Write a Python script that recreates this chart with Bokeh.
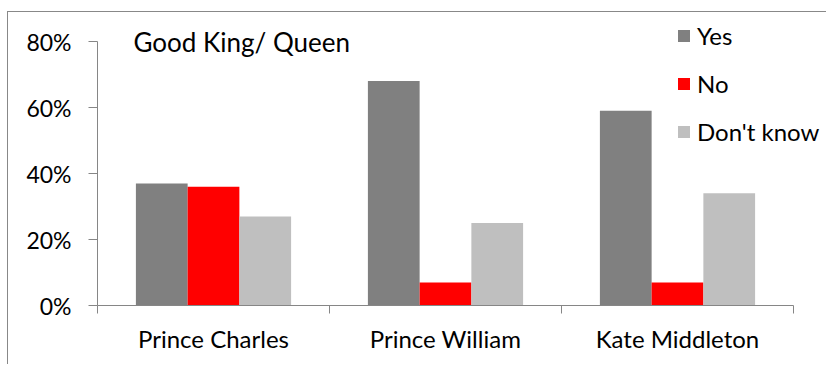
from bokeh.plotting import figure
from bokeh.models import (FixedTicker, Legend, LegendItem, Label,
                          PrintfTickFormatter, Range1d)
from bokeh.embed import file_html
from bokeh.resources import INLINE

categories = ["Prince Charles", "Prince William", "Kate Middleton"]
series = ["Yes", "No", "Don't know"]
yes = [37, 68, 59]
no = [36, 7, 7]
dont_know = [27, 25, 34]
y_ticks = [0, 20, 40, 60, 80]
title_text = "Good King/ Queen"

colors = ["#808080", "#FF0000", "#BFBFBF"]
FONT = "Lato"

# pixel geometry (page coords): frame 97..827 x, 12..305 y ; 80% at y=41
px_per_unit_y = (305 - 41) / 80.0
y_top = (305 - 12) / px_per_unit_y
x_top = (827 - 97) / 232.0

p = figure(width=819, height=353, output_backend="svg", toolbar_location=None,
           x_range=Range1d(0, x_top), y_range=Range1d(0, y_top),
           min_border_left=89, min_border_right=0, min_border_top=0,
           min_border_bottom=60, margin=(11, 0, 0, 7))
p.styles = {"border-left": "1px solid #888888", "border-top": "1px solid #888888"}
p.outline_line_color = None
p.grid.grid_line_color = None
p.background_fill_color = "white"
p.border_fill_color = "white"

bw = 0.223
offsets = [-bw, 0.0, bw]
renderers = []
for vals, off, col in zip([yes, no, dont_know], offsets, colors):
    xs = [i + 0.5 + off for i in range(len(categories))]
    r = p.vbar(x=xs, top=vals, width=bw, fill_color=col, line_color=None)
    renderers.append(r)

# axes
ax = p.xaxis[0]
ax.bounds = (0, len(categories))
ax.ticker = FixedTicker(ticks=[i + 0.5 for i in range(len(categories))],
                        minor_ticks=list(range(len(categories) + 1)))
ax.major_label_overrides = {i + 0.5: c for i, c in enumerate(categories)}
ax.major_tick_line_color = None
ax.minor_tick_line_color = "#868686"
ax.minor_tick_out = 8
ax.minor_tick_in = 0
ax.axis_line_color = "#868686"
ax.major_label_standoff = 10
ax.major_label_text_font = FONT
ax.major_label_text_font_size = "24px"
ax.major_label_text_color = "black"

ay = p.yaxis[0]
ay.bounds = (0, 80)
ay.ticker = FixedTicker(ticks=y_ticks)
ay.formatter = PrintfTickFormatter(format="%d%%")
ay.minor_tick_line_color = None
ay.major_tick_line_color = "#868686"
ay.major_tick_out = 9
ay.major_tick_in = 0
ay.axis_line_color = "#868686"
ay.major_label_standoff = 17
ay.major_label_text_font = FONT
ay.major_label_text_font_size = "23px"
ay.major_label_text_color = "black"

# title inside plot
p.add_layout(Label(x=0.155, y=80, text=title_text, text_font=FONT,
                   text_font_size="26px", text_baseline="middle",
                   text_color="black"))

legend = Legend(items=[LegendItem(label=s, renderers=[r]) for s, r in zip(series, renderers)],
                location=(579, 159), orientation="vertical",
                glyph_width=15, glyph_height=15, label_height=24, spacing=19,
                padding=0, margin=0, label_standoff=6,
                label_text_font=FONT, label_text_font_size="24px",
                label_text_color="black",
                border_line_color=None, background_fill_alpha=0)
p.add_layout(legend, "center")

open("out.html", "w").write(file_html(p, INLINE))
